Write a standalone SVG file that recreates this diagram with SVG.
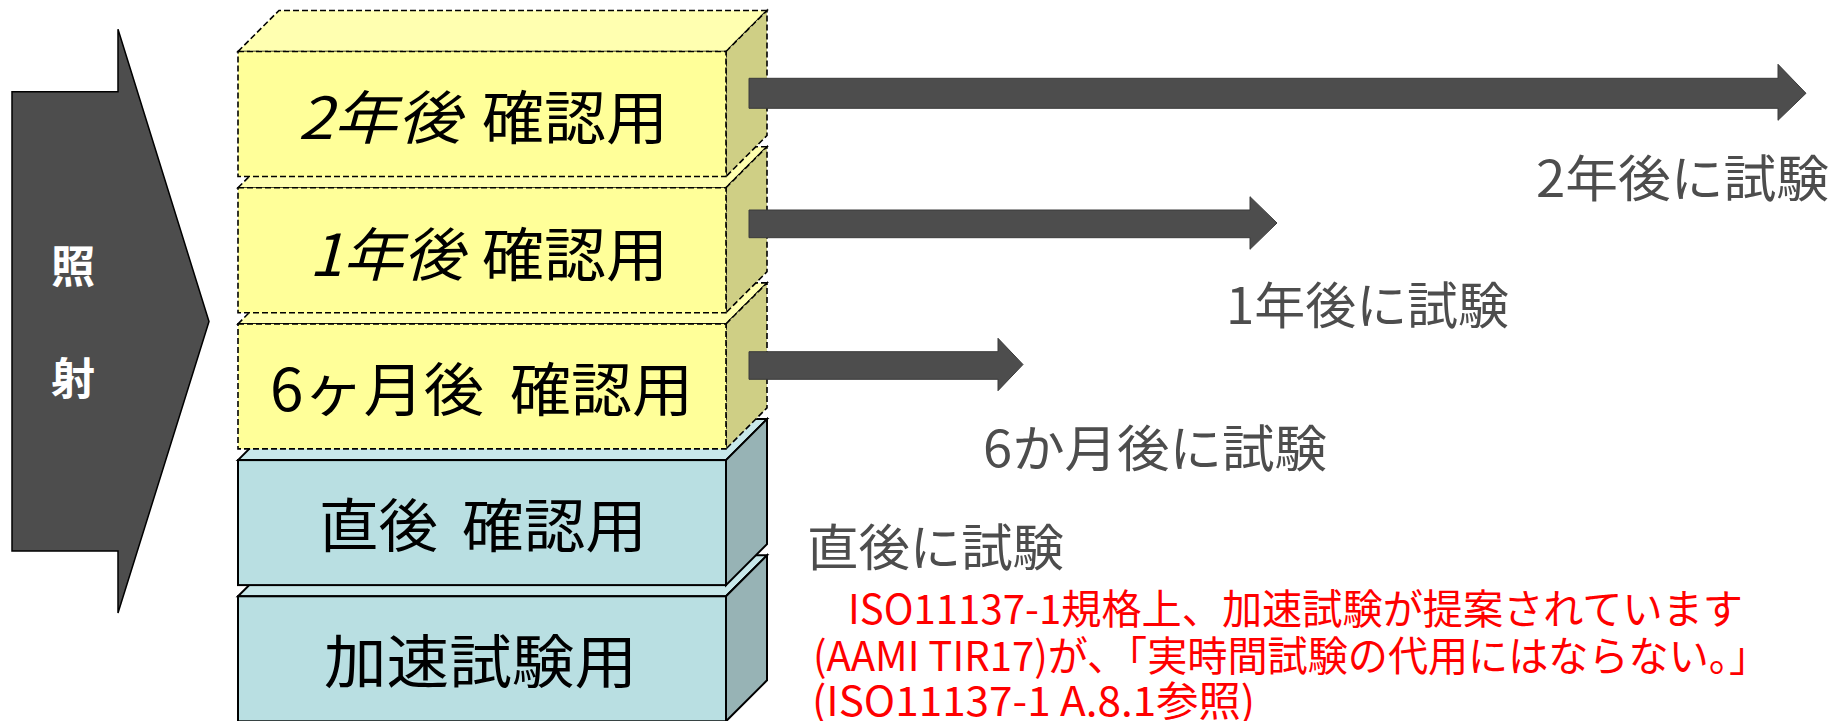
<svg xmlns="http://www.w3.org/2000/svg" width="1839" height="721" viewBox="0 0 1839 721">
<style>
.yt{fill:#ffffb0;stroke:#000;stroke-width:1.6;stroke-dasharray:6 3}
.ys{fill:#cfcf85;stroke:#000;stroke-width:1.6;stroke-dasharray:6 3}
.yf{fill:#ffff99;stroke:#000;stroke-width:1.6;stroke-dasharray:6 3}
.bt{fill:#c8e8ea;stroke:#000;stroke-width:2}
.bs{fill:#97b3b5;stroke:#000;stroke-width:2}
.bf{fill:#b9dfe2;stroke:#000;stroke-width:2}
.lbl{font-family:"Noto Sans CJK JP","Noto Sans",sans-serif;font-size:58px;fill:#000}
.it{font-style:italic}
.gl{font-family:"Noto Sans CJK JP","Noto Sans",sans-serif;font-size:50px;fill:#4d4d4d}
.red{font-family:"Noto Sans CJK JP","Noto Sans",sans-serif;font-size:41px;fill:#ff0000}
.irr{font-family:"Noto Sans CJK JP","Noto Sans",sans-serif;font-size:44px;font-weight:bold;fill:#fff;text-anchor:middle}
.arr{fill:#4d4d4d;stroke:#3a3a3a;stroke-width:1}
</style>

<g id="irradiation">
<polygon points="12,91.7 118,91.7 118,29.3 209,321.5 118,613 118,551 12,551" fill="#4d4d4d" stroke="#000" stroke-width="1.5"/>
<text class="irr" x="73" y="283">照</text>
<text class="irr" x="73" y="395">射</text>
</g>

<g id="box-accel">
<polygon class="bt" points="238,596.3 279,555.3 767,555.3 726,596.3"/>
<polygon class="bs" points="726,596.3 767,555.3 767,680.3 726,721.3"/>
<rect class="bf" x="238" y="596.3" width="488" height="125"/>
<text class="lbl" x="324" y="683" textLength="313" lengthAdjust="spacingAndGlyphs">加速試験用</text>
</g>

<g id="box-immediate">
<polygon class="bt" points="238,460.1 279,419.1 767,419.1 726,460.1"/>
<polygon class="bs" points="726,460.1 767,419.1 767,544.1 726,585.1"/>
<rect class="bf" x="238" y="460.1" width="488" height="125"/>
<text class="lbl" y="547"><tspan x="319" textLength="119" lengthAdjust="spacingAndGlyphs">直後</tspan><tspan x="462" textLength="185" lengthAdjust="spacingAndGlyphs">確認用</tspan></text>
</g>

<g id="box-6m">
<polygon class="yt" points="238,323.9 279,282.9 767,282.9 726,323.9"/>
<polygon class="ys" points="726,323.9 767,282.9 767,407.9 726,448.9"/>
<rect class="yf" x="238" y="323.9" width="488" height="125"/>
<text class="lbl" y="411"><tspan x="270" textLength="214" lengthAdjust="spacingAndGlyphs">6ヶ月後</tspan><tspan x="510" textLength="183" lengthAdjust="spacingAndGlyphs">確認用</tspan></text>
</g>

<g id="box-1y">
<polygon class="yt" points="238,187.7 279,146.7 767,146.7 726,187.7"/>
<polygon class="ys" points="726,187.7 767,146.7 767,271.7 726,312.7"/>
<rect class="yf" x="238" y="187.7" width="488" height="125"/>
<text class="lbl" y="276"><tspan class="it" x="309" textLength="155" lengthAdjust="spacingAndGlyphs">1年後</tspan><tspan x="482" textLength="186" lengthAdjust="spacingAndGlyphs">確認用</tspan></text>
</g>

<g id="box-2y">
<polygon class="yt" points="238,51.5 279,10.5 767,10.5 726,51.5"/>
<polygon class="ys" points="726,51.5 767,10.5 767,135.5 726,176.5"/>
<rect class="yf" x="238" y="51.5" width="488" height="125"/>
<text class="lbl" y="139"><tspan class="it" x="298" textLength="163" lengthAdjust="spacingAndGlyphs">2年後</tspan><tspan x="482" textLength="186" lengthAdjust="spacingAndGlyphs">確認用</tspan></text>
</g>

<g id="connectors">
<polygon class="arr" points="749,78.3 1778,78.3 1778,64.3 1806,93.3 1778,120.3 1778,108.3 749,108.3"/>
<polygon class="arr" points="749,210 1250,210 1250,196.7 1277,223 1250,249.3 1250,237.7 749,237.7"/>
<polygon class="arr" points="749,351.7 998,351.7 998,338.3 1023,364.5 998,390.7 998,379.3 749,379.3"/>
</g>

<g id="labels">
<text class="gl" x="1536" y="197" textLength="293" lengthAdjust="spacingAndGlyphs">2年後に試験</text>
<text class="gl" x="1226" y="324" textLength="283" lengthAdjust="spacingAndGlyphs">1年後に試験</text>
<text class="gl" x="983" y="467" textLength="344" lengthAdjust="spacingAndGlyphs">6か月後に試験</text>
<text class="gl" x="807" y="566" textLength="257" lengthAdjust="spacingAndGlyphs">直後に試験</text>
</g>

<g id="note">
<text class="red" x="848" y="624" textLength="895" lengthAdjust="spacingAndGlyphs">ISO11137-1規格上、加速試験が提案されています</text>
<text class="red" x="813" y="671" textLength="956" lengthAdjust="spacingAndGlyphs">(AAMI TIR17)が、「実時間試験の代用にはならない。」</text>
<text class="red" x="812" y="716" textLength="443" lengthAdjust="spacingAndGlyphs">(ISO11137-1 A.8.1参照)</text>
</g>
</svg>
